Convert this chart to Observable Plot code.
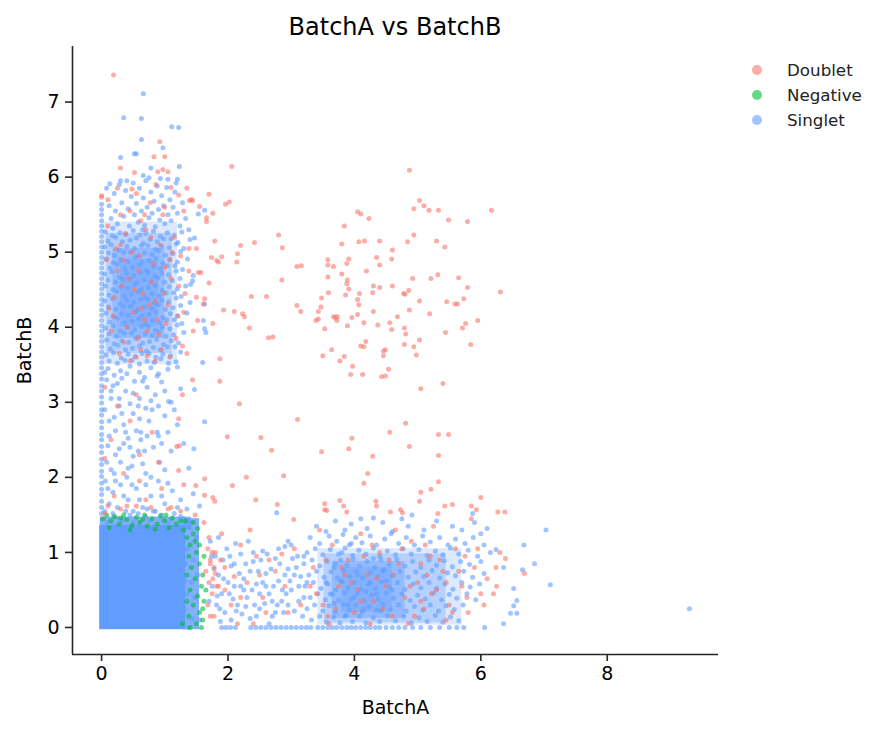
<!DOCTYPE html>
<html><head><meta charset="utf-8">
<script src="https://cdn.jsdelivr.net/npm/d3@7"></script>
<script src="https://cdn.jsdelivr.net/npm/@observablehq/plot@0.6"></script>
<style>
body{margin:0;background:#fff;font-family:"DejaVu Sans",sans-serif;}
#wrap{position:relative;width:884px;height:734px;}
#title{position:absolute;left:0px;width:790px;top:13px;text-align:center;font-size:24px;color:#000;}
#legend{position:absolute;left:752px;top:57px;font-size:16.7px;color:#222;}
.item{display:flex;align-items:center;height:25px;}
.sw{width:10px;height:10px;border-radius:50%;margin-right:25px;}
</style></head><body>
<div id="wrap"><div id="title">BatchA vs BatchB</div><div id="legend"></div></div>
<script>
const categories = ["Doublet","Negative","Singlet"];
const colors = ["#F8766D","#00BA38","#619CFF"];
const xDomain = [-0.46, 9.76];
const yDomain = [-0.36, 7.74];
const xTicks = [0,2,4,6,8];
const yTicks = [0,1,2,3,4,5,6,7];
// saturated (over-plotted) core of Singlet points
const coreRegion = [{x1:-0.03,x2:1.33,y1:-0.03,y2:1.36}];
// crowded areas where Singlet points overlap heavily: [x1,x2,y1,y2,opacity]
const crowdBands = [
[0.03,1.2,3.5,5.4,0.22],[0.08,1.12,3.65,5.25,0.3],[0.18,1.0,3.85,5.05,0.4],[0.3,0.9,4.0,4.9,0.3],
[3.42,5.7,0.03,1.05,0.22],[3.52,5.45,0.06,0.98,0.3],[3.65,4.8,0.12,0.88,0.4],[3.8,4.6,0.2,0.8,0.3],
[-0.02,1.42,1.3,1.47,0.8],[1.3,1.55,-0.03,1.45,0.8]
];

const zeroColY = [1.52,1.6,1.68,1.77,1.84,1.92,2.01,2.08,2.17,2.24,2.33,2.41,2.5,2.57,2.66,2.74,2.83,2.9,2.99,3.07,3.15,3.22,3.31,3.38,3.46,3.53,3.6,3.67,3.74,3.81,3.88,3.95,4.02,4.09,4.16,4.23,4.3,4.37,4.44,4.51,4.58,4.65,4.72,4.79,4.86,4.93,5.0,5.07,5.14,5.21,5.28,5.35,5.42,5.5,5.57,5.64];

const singletLeft = [
[0.66,7.11],[0.35,6.79],[0.63,6.78],[0.63,6.50],[1.11,6.67],[1.22,6.66],[0.97,6.39],[0.30,6.26],[0.52,6.31],[0.55,6.31],[1.23,6.14],[0.78,6.12],[0.66,6.02],[0.13,5.91],[0.30,5.95],[0.75,5.99],[1.05,5.97],[1.2,5.97],
[0.08,5.85],[0.12,5.62],[0.15,5.45],[0.2,5.78],[0.22,5.55],[0.25,5.38],[0.28,5.9],[0.32,5.66],[0.35,5.48],[0.38,5.82],[0.42,5.58],[0.44,5.35],[0.47,5.74],[0.5,5.92],[0.52,5.5],[0.55,5.65],[0.58,5.4],[0.6,5.85],[0.63,5.55],[0.66,5.72],[0.68,5.36],[0.7,5.95],[0.72,5.6],[0.75,5.46],[0.78,5.8],[0.8,5.52],[0.83,5.68],[0.85,5.34],[0.88,5.88],[0.9,5.57],[0.92,5.43],[0.95,5.75],[0.98,5.62],[1.0,5.38],[1.03,5.86],[1.05,5.5],[1.08,5.7],[1.1,5.42],[1.13,5.6],[1.16,5.8],[1.2,5.52],[1.24,5.35],[1.28,5.66],[1.33,5.45],[1.38,5.3],[0.18,5.32],[0.4,5.95],[0.65,5.3],[0.93,5.98],[1.18,5.92],
[0.06,5.27],[0.17,5.22],[0.29,5.26],[0.38,5.24],[0.5,5.29],[0.61,5.23],[0.7,5.25],[0.82,5.28],[0.93,5.21],[1.04,5.26],[1.15,5.23],[1.27,5.27],
[0.1,5.15],[0.22,5.20],[0.33,5.14],[0.45,5.16],[0.55,5.19],[0.66,5.12],[0.77,5.17],[0.88,5.14],[0.98,5.18],[1.1,5.18],[1.21,5.13],[1.4,5.17],
[0.05,5.07],[0.15,5.10],[0.27,5.03],[0.4,5.08],[0.52,5.05],[0.63,5.09],[0.73,5.09],[0.85,5.04],[0.95,5.08],[1.07,5.06],[1.18,5.11],[1.3,5.05],
[0.11,4.99],[0.2,4.96],[0.35,5.00],[0.46,5.00],[0.58,4.95],[0.68,4.99],[0.8,4.97],[0.9,5.02],[1.01,4.96],[1.13,4.98],[1.25,5.01],
[0.07,4.91],[0.18,4.86],[0.3,4.90],[0.42,4.88],[0.53,4.93],[0.64,4.87],[0.75,4.89],[0.86,4.92],[0.97,4.85],[1.08,4.90],[1.2,4.87],[1.36,4.91],
[0.13,4.79],[0.25,4.84],[0.37,4.78],[0.49,4.80],[0.6,4.83],[0.71,4.76],[0.82,4.81],[0.93,4.78],[1.04,4.82],[1.16,4.82],[1.28,4.77],
[0.05,4.71],[0.16,4.74],[0.28,4.67],[0.4,4.72],[0.51,4.69],[0.62,4.73],[0.73,4.73],[0.84,4.68],[0.95,4.72],[1.06,4.70],[1.18,4.75],[1.45,4.69],
[0.1,4.63],[0.22,4.60],[0.34,4.64],[0.45,4.64],[0.56,4.59],[0.67,4.63],[0.78,4.61],[0.89,4.66],[1.0,4.60],[1.12,4.62],[1.24,4.65],
[0.06,4.55],[0.18,4.50],[0.3,4.54],[0.41,4.52],[0.52,4.57],[0.63,4.51],[0.74,4.53],[0.85,4.56],[0.96,4.49],[1.07,4.54],[1.2,4.51],[1.33,4.55],
[0.12,4.43],[0.24,4.48],[0.36,4.42],[0.47,4.44],[0.58,4.47],[0.69,4.40],[0.8,4.45],[0.91,4.42],[1.02,4.46],[1.14,4.46],[1.26,4.41],
[0.05,4.35],[0.17,4.38],[0.29,4.31],[0.4,4.36],[0.51,4.33],[0.62,4.37],[0.73,4.37],[0.84,4.32],[0.95,4.36],[1.06,4.34],[1.18,4.39],[1.4,4.33],
[0.11,4.27],[0.23,4.24],[0.35,4.28],[0.46,4.28],[0.57,4.23],[0.68,4.27],[0.79,4.25],[0.9,4.30],[1.01,4.24],[1.13,4.26],[1.25,4.29],
[0.07,4.19],[0.19,4.14],[0.31,4.18],[0.42,4.16],[0.53,4.21],[0.64,4.15],[0.75,4.17],[0.86,4.20],[0.97,4.13],[1.09,4.18],[1.21,4.15],[1.35,4.19],
[0.13,4.07],[0.25,4.12],[0.37,4.06],[0.48,4.08],[0.59,4.11],[0.7,4.04],[0.81,4.09],[0.92,4.06],[1.03,4.10],[1.15,4.10],[1.27,4.05],
[0.06,3.99],[0.18,4.02],[0.3,3.95],[0.41,4.00],[0.52,3.97],[0.63,4.01],[0.74,4.01],[0.85,3.96],[0.96,4.00],[1.08,3.98],[1.2,4.03],
[0.12,3.91],[0.24,3.88],[0.36,3.92],[0.47,3.92],[0.58,3.87],[0.69,3.91],[0.8,3.89],[0.91,3.94],[1.02,3.88],[1.14,3.90],[1.3,3.93],
[0.08,3.83],[0.2,3.78],[0.32,3.82],[0.43,3.80],[0.54,3.85],[0.65,3.79],[0.76,3.81],[0.87,3.84],[0.98,3.77],[1.1,3.82],[1.22,3.79],
[0.14,3.71],[0.26,3.76],[0.38,3.70],[0.49,3.72],[0.6,3.75],[0.71,3.68],[0.82,3.73],[0.93,3.70],[1.04,3.74],[1.16,3.74],
[0.07,3.63],[0.19,3.66],[0.31,3.59],[0.42,3.64],[0.53,3.61],[0.64,3.65],[0.75,3.65],[0.86,3.60],[0.97,3.64],[1.09,3.62],[1.25,3.67],
[0.12,3.55],[0.25,3.52],[0.37,3.56],[0.48,3.56],[0.6,3.51],[0.72,3.55],[0.83,3.53],[0.94,3.58],[1.06,3.52],[1.18,3.54],
[0.1,3.45],[0.3,3.42],[0.45,3.48],[0.6,3.4],[0.78,3.46],[0.9,3.38],[1.05,3.44],[1.2,3.47],[0.2,3.36],[0.68,3.33],
[0.08,3.3],[0.25,3.25],[0.38,3.15],[0.52,3.28],[0.6,3.05],[0.72,3.2],[0.85,3.1],[0.95,3.27],[1.1,3.0],[1.25,3.18],[0.15,3.05],[0.45,2.98],[0.32,3.32],[1.15,2.9],[0.9,2.95],
[0.05,2.9],[0.2,2.8],[0.35,2.7],[0.5,2.85],[0.62,2.6],[0.75,2.75],[0.9,2.55],[1.0,2.82],[0.12,2.55],[0.42,2.52],[0.28,2.95],[1.2,2.7],[0.7,2.92],[0.55,2.62],
[0.1,2.42],[0.22,2.3],[0.35,2.45],[0.48,2.15],[0.58,2.35],[0.7,2.05],[0.82,2.4],[0.92,2.2],[0.15,2.1],[0.4,2.0],[1.1,2.35],[1.38,2.12],[0.62,2.5],[0.3,2.2],
[0.06,1.95],[0.18,1.8],[0.3,1.9],[0.42,1.7],[0.55,1.85],[0.65,1.6],[0.78,1.75],[0.9,1.95],[1.0,1.65],[1.12,1.82],[1.25,1.7],[1.35,1.58],[0.25,1.6],[0.5,1.55],[0.85,1.55],[1.45,1.78],[1.55,1.62],[0.12,1.65],[0.7,1.9],
[0.05,3.4],[0.18,3.22],[0.28,3.05],[0.4,3.38],[0.5,3.12],[0.65,3.28],[0.78,3.02],[0.88,3.35],[1.0,3.15],[0.12,2.75],[0.22,2.62],[0.32,2.85],[0.45,2.4],[0.6,2.78],[0.68,2.35],[0.8,2.9],[0.95,2.45],[1.05,2.6],[0.08,2.2],[0.2,2.05],[0.28,2.38],[0.5,2.28],[0.65,2.18],[0.78,2.0],[0.88,2.6],[1.0,2.1],[0.1,1.85],[0.22,1.95],[0.35,1.75],[0.48,1.9],[0.6,1.7],[0.72,1.58],[0.95,1.75],[1.05,1.92],[1.2,1.6],[0.38,2.6],[0.15,3.15],[0.58,2.95],[0.72,2.55],[0.42,2.12],
[1.60,3.53],[1.47,3.17],[1.63,2.74],[1.46,2.38],[1.30,2.45],[1.06,3.01],[1.53,5.51],[1.63,5.56],[1.47,5.19],[1.61,4.09],[1.63,4.31],[1.63,3.98],[1.65,3.93],[1.41,4.57],[1.44,4.62]
];

const singletCoreEdge = [
[0.05,1.55],[0.1,1.4],[0.18,1.52],[0.25,1.35],[0.33,1.42],[0.38,1.55],[0.5,1.4],[0.58,1.52],[0.63,1.33],[0.75,1.42],[0.82,1.55],[0.9,1.32],[0.97,1.44],[1.05,1.38],[1.15,1.52],[1.2,1.3],[1.3,1.45],[1.36,1.05],[1.33,0.85],[1.42,0.6],[1.35,0.45],[1.3,0.25],[1.44,0.12],[1.37,0.0],[1.32,0.62],[1.4,1.33],
[0.22,1.47],[0.45,1.5],[0.7,1.48],[0.95,1.5],[1.1,1.44],[1.25,1.48],[1.42,1.4],[1.5,1.2],[1.45,0.9],[1.52,0.7],[1.48,0.4],[1.55,0.1]
];

const singletRight = [
[1.72,1.15],[1.8,0.95],[1.85,0.7],[1.9,0.45],[1.95,0.2],[1.98,1.05],[2.05,0.82],[2.1,0.55],[2.15,0.3],[2.2,0.98],[2.25,0.65],[2.3,0.4],[2.35,0.12],[2.4,0.88],[2.45,0.58],[2.5,0.25],[2.55,1.02],[2.6,0.72],[2.65,0.45],[2.7,0.15],[2.75,0.92],[2.8,0.62],[2.85,0.35],[2.9,1.08],[2.95,0.78],[3.0,0.5],[3.05,0.22],[3.1,0.95],[3.15,0.68],[3.2,0.4],[1.75,0.55],[1.82,0.3],[1.88,0.08],[2.0,0.6],[2.08,0.38],[2.12,1.12],[2.22,0.18],[2.28,0.85],[2.38,0.5],[2.48,0.75],[2.58,0.32],[2.62,0.98],[2.72,0.55],[2.82,0.85],[2.88,0.2],[2.98,0.62],[3.08,0.8],[3.18,0.15],[1.78,0.78],[1.92,0.9],[2.18,0.72],[2.42,0.3],[2.68,0.78],[2.92,0.45],[3.12,0.55],[2.02,0.45],[2.55,0.6],[2.78,0.3],[1.7,0.35],[1.85,1.2],[2.32,1.15],[2.95,1.15],[3.02,0.92],[2.05,0.1],[2.65,0.05],[2.25,0.5],[2.5,0.45],
[1.74,0.95],[1.83,0.42],[1.93,0.65],[2.03,0.95],[2.13,0.22],[2.2,0.55],[2.28,0.28],[2.35,0.75],[2.45,0.15],[2.52,0.9],[2.6,0.55],[2.7,0.35],[2.8,1.05],[2.86,0.5],[2.95,0.3],[3.05,0.7],[3.12,0.35],[3.2,0.95],[3.25,0.6],[1.87,0.25],[2.4,1.0],[2.75,0.2],[3.0,1.1],[2.1,0.85],[2.9,0.7],
[3.4,1.35],[3.7,1.42],[3.85,1.3],[3.95,1.38],[4.2,1.32],[4.45,1.4],[4.6,1.28],[4.85,1.35],[5.1,1.3],[5.3,1.42],[5.55,1.35],[5.9,1.4],[6.1,1.32],[3.55,1.28],[4.1,1.45],[4.75,1.45],[5.7,1.3],[6.0,1.25],
[3.3,1.2],[3.45,1.12],[3.6,1.22],[3.72,1.15],[3.82,1.24],[3.92,1.1],[4.02,1.2],[4.12,1.13],[4.25,1.22],[4.35,1.1],[4.48,1.18],[4.58,1.25],[4.7,1.12],[4.82,1.2],[4.95,1.1],[5.08,1.22],[5.2,1.14],[5.35,1.2],[5.48,1.1],[5.6,1.18],[5.75,1.12],[5.88,1.2],[6.05,1.1],
[3.25,1.0],[3.38,1.05],[3.5,0.97],[3.62,1.04],[3.75,0.98],[3.85,1.06],[3.97,0.96],[4.07,1.03],[4.18,0.98],[4.3,1.06],[4.4,0.95],[4.52,1.02],[4.65,0.97],[4.77,1.05],[4.9,0.98],[5.02,1.04],[5.15,0.96],[5.28,1.02],[5.4,0.97],[5.52,1.06],[5.65,0.98],[5.8,1.03],[5.95,0.95],[6.15,1.0],
[3.2,0.85],[3.33,0.9],[3.45,0.82],[3.57,0.88],[3.68,0.8],[3.78,0.9],[3.88,0.83],[3.98,0.91],[4.08,0.82],[4.2,0.88],[4.32,0.8],[4.42,0.9],[4.55,0.84],[4.67,0.91],[4.8,0.82],[4.92,0.88],[5.05,0.8],[5.18,0.9],[5.3,0.83],[5.42,0.89],[5.55,0.81],[5.68,0.88],[5.82,0.84],[6.0,0.88],
[3.28,0.7],[3.4,0.75],[3.52,0.67],[3.63,0.74],[3.73,0.66],[3.83,0.76],[3.93,0.68],[4.03,0.75],[4.13,0.66],[4.25,0.73],[4.37,0.68],[4.47,0.77],[4.6,0.69],[4.72,0.75],[4.85,0.67],[4.97,0.74],[5.1,0.68],[5.23,0.76],[5.35,0.66],[5.47,0.73],[5.6,0.69],[5.73,0.75],[5.87,0.67],[6.05,0.72],
[3.22,0.55],[3.35,0.6],[3.47,0.52],[3.58,0.58],[3.7,0.5],[3.8,0.61],[3.9,0.53],[4.0,0.6],[4.1,0.51],[4.22,0.58],[4.33,0.52],[4.43,0.61],[4.55,0.54],[4.68,0.6],[4.8,0.51],[4.93,0.58],[5.05,0.53],[5.18,0.6],[5.3,0.52],[5.43,0.58],[5.56,0.51],[5.7,0.6],[5.83,0.54],[5.98,0.58],
[3.3,0.4],[3.42,0.45],[3.54,0.37],[3.65,0.44],[3.75,0.36],[3.85,0.46],[3.95,0.38],[4.05,0.45],[4.15,0.36],[4.27,0.43],[4.38,0.38],[4.5,0.46],[4.62,0.39],[4.75,0.45],[4.88,0.36],[5.0,0.43],[5.12,0.38],[5.25,0.46],[5.38,0.37],[5.5,0.44],[5.62,0.39],[5.78,0.45],[5.92,0.37],
[3.25,0.25],[3.37,0.3],[3.5,0.22],[3.6,0.29],[3.7,0.21],[3.82,0.31],[3.92,0.23],[4.02,0.3],[4.12,0.21],[4.23,0.28],[4.35,0.23],[4.45,0.31],[4.57,0.24],[4.7,0.3],[4.82,0.22],[4.95,0.28],[5.08,0.23],[5.2,0.3],[5.33,0.22],[5.45,0.29],[5.58,0.24],[5.72,0.3],
[3.32,0.1],[3.45,0.15],[3.56,0.07],[3.67,0.14],[3.77,0.06],[3.87,0.16],[3.97,0.08],[4.08,0.15],[4.18,0.06],[4.3,0.13],[4.4,0.08],[4.52,0.16],[4.65,0.09],[4.78,0.15],[4.9,0.06],[5.02,0.13],[5.15,0.08],[5.28,0.16],[5.4,0.07],[5.52,0.14],[5.65,0.09],
[3.62,0.45],[3.78,0.62],[3.9,0.3],[4.05,0.7],[4.18,0.48],[4.3,0.92],[4.42,0.22],[3.7,0.85],[3.85,0.15],[4.0,0.4],[4.25,0.6],[4.45,0.75],[3.55,0.6],[3.95,1.12],[4.6,0.5],[4.15,0.25],[3.68,0.32],[4.35,0.45],[3.8,1.0],[4.5,0.62],
[2.77,1.53],[4.30,1.46],[4.91,1.50],[5.87,1.52],[6.68,1.10],[6.66,0.77],[7.03,1.30],[6.85,0.85],[7.10,0.57],[6.52,0.52],[6.57,0.36],[6.52,0.29],[6.47,0.19],[6.57,0.19],[6.36,0.05],[9.30,0.25],[6.36,0.80],[6.24,1.04],[6.06,0.0]
];

const zeroRowX = [1.9,1.97,2.04,2.12,2.36,2.44,2.52,2.6,2.68,2.76,2.84,2.92,3.0,3.08,3.16,3.24,3.31,3.42,3.5,3.58,3.65,3.72,3.8,3.88,3.95,4.02,4.1,4.18,4.25,4.33,4.4,4.5,4.6,4.7,4.8,4.92,5.05,5.2,5.35,5.5,5.62,5.73];

const negative = [
[0.02,1.45],[0.08,1.5],[0.15,1.42],[0.2,1.48],[0.28,1.38],[0.35,1.5],[0.4,1.44],[0.48,1.36],[0.55,1.47],[0.6,1.4],[0.68,1.5],[0.72,1.35],[0.8,1.45],[0.88,1.38],[0.93,1.49],[1.0,1.42],[1.07,1.33],[1.12,1.46],[1.18,1.38],[1.25,1.42],[0.12,1.33],[0.45,1.3],[0.85,1.31],[0.3,1.46],[0.65,1.44],[1.02,1.5],
[1.3,1.3],[1.35,1.2],[1.4,1.1],[1.45,1.25],[1.5,1.0],[1.38,0.95],[1.55,0.85],[1.42,0.8],[1.6,0.7],[1.48,0.65],[1.58,0.55],[1.4,0.5],[1.52,0.42],[1.62,0.35],[1.45,0.3],[1.55,0.2],[1.38,0.15],[1.6,0.1],[1.5,0.05],[1.4,0.0],[1.58,0.0],[1.33,1.42],[1.45,1.4],[1.52,1.32],[1.48,1.15],[1.62,0.95],[1.35,0.7],[1.6,0.25],[1.35,0.35],[1.65,0.5],[1.55,1.1],[1.28,0.05]
];

const doublet = [
[0.19,7.36],[0.92,6.47],[0.83,6.27],[1.0,6.27],[0.30,6.12],[0.52,6.06],[0.89,6.07],[1.05,6.07],[0.97,6.10],[0,5.75],[0,5.73],
[0.1,5.7],[0.3,5.5],[0.48,5.84],[0.62,5.42],[0.77,5.66],[0.86,5.9],[0.97,5.5],[1.1,5.86],[1.22,5.76],[1.3,5.55],[1.42,5.7],[1.35,5.85],[0.55,5.78],
[0.08,4.9],[0.2,4.4],[0.3,5.1],[0.35,3.8],[0.42,4.65],[0.5,4.2],[0.55,3.6],[0.6,4.95],[0.65,4.45],[0.72,3.95],[0.78,5.2],[0.8,4.6],[0.88,4.1],[0.95,3.7],[1.0,4.8],[1.05,4.3],[1.12,5.0],[1.18,3.85],[1.22,4.55],[1.3,4.2],[1.38,4.75],[1.45,3.95],[1.5,4.4],[0.15,3.95],[0.25,4.75],[0.45,3.55],[0.68,4.1],[0.85,3.55],[0.98,4.45],[1.08,3.6],[1.25,4.95],[1.35,3.65],[0.38,5.25],[0.12,4.25],[0.58,3.85],
[0.1,5.35],[0.22,5.05],[0.32,4.55],[0.4,4.0],[0.48,5.0],[0.52,4.5],[0.62,3.7],[0.7,5.3],[0.75,4.3],[0.82,4.85],[0.9,3.9],[0.92,5.1],[1.02,4.05],[1.1,4.65],[1.15,5.2],[1.2,4.15],[1.28,3.75],[1.32,4.45],[0.18,4.15],[0.28,3.65],[0.58,4.75],[0.68,5.5],[0.85,4.35],[1.0,5.6],[0.45,5.55],[0.25,5.85],[0.72,3.62],[1.08,4.9],[0.35,4.9],[0.62,4.25],
[0.05,3.2],[0.25,2.95],[0.45,2.75],[0.15,2.5],[0.6,2.3],[0.35,2.05],[0.05,2.25],[0.8,2.6],[0.55,3.1],[0.7,1.7],[0.2,1.75],[0.95,1.85],[1.1,1.6],[0.4,1.62],[1.3,1.9],[0.05,1.52],[0.6,1.95],[0.9,2.2],
[1.44,3.30],[1.28,3.10],[1.22,2.78],[1.19,2.41],[1.23,2.42],[1.22,2.09],[1.49,1.89],[1.63,1.76],[1.76,1.73],[1.79,1.68],[1.39,5.69],[1.44,5.69],[1.55,5.61],[1.57,4.73],[1.53,4.73],[1.50,5.05],[1.38,5.05],[1.63,4.38],[1.52,4.09],[1.61,4.31],[1.85,4.87],
[0.1,1.62],[0.3,1.58],[0.55,1.62],[0.78,1.6],[1.05,1.58],[1.25,1.55],[1.48,1.5],[1.62,1.4],[1.7,1.2],[1.68,1.05],[1.72,0.9],[1.65,0.75],[1.7,0.6],[1.75,0.45],[1.68,0.3],[1.72,0.15],[1.8,1.0],[1.78,0.8],[1.82,0.55],[1.72,0.85],[1.8,0.72],[1.88,0.9],[1.76,0.65],
[1.75,1.0],[1.85,0.55],[1.95,0.8],[2.05,0.3],[2.2,1.1],[2.3,0.6],[2.45,0.95],[2.6,0.2],[2.75,0.75],[2.9,0.55],[3.05,1.05],[3.15,0.3],[2.4,0.05],[1.78,0.15],[2.1,0.68],[2.55,0.4],[2.85,0.98],[1.9,1.25],[2.35,1.3],[2.15,0.05],
[3.35,0.8],[3.5,0.3],[3.65,1.1],[3.75,0.55],[3.9,0.9],[4.0,0.2],[4.1,1.25],[4.2,0.7],[4.3,0.35],[4.4,1.0],[4.5,0.55],[4.6,0.15],[4.7,0.85],[4.8,0.4],[4.9,1.15],[5.0,0.6],[5.1,0.25],[5.2,0.95],[5.3,0.5],[5.4,0.75],[5.5,0.3],[5.6,1.05],[5.7,0.55],[5.8,0.2],[5.9,0.8],[6.0,0.45],[6.1,0.65],[3.45,1.3],[4.65,1.3],[5.25,1.35],[5.85,1.45],[4.25,0.05],[4.85,0.05],[3.6,0.05],[5.45,0.1],[3.85,0.7],[4.55,0.9],[5.15,0.7],[5.75,0.95],[6.25,0.55],[4.05,0.5],[5.05,0.35],[3.3,0.55],[6.3,1.0],
[3.4,0.45],[3.55,0.9],[3.7,0.25],[3.8,0.8],[3.95,0.6],[4.1,0.35],[4.15,0.95],[4.35,0.65],[4.45,0.25],[4.62,0.7],[4.75,1.05],[4.95,0.15],[5.05,0.85],[5.22,0.45],[5.35,0.9],[5.45,0.6],[5.55,0.2],[5.65,0.75],[5.78,0.4],[5.95,1.05],[6.05,0.3],[4.88,0.55],[4.28,1.1],[3.58,0.15],[5.12,1.1],[2.2,0.4],[2.65,0.9],[2.95,0.2],[1.95,0.5],[2.5,0.7],
[2.06,6.14],[4.87,6.09],[1.70,5.77],[1.96,5.64],[2.02,5.67],[1.76,5.52],[5.03,5.69],[4.94,5.58],[5.10,5.62],[5.18,5.56],[5.33,5.56],[6.17,5.56],[4.05,5.54],[4.10,5.51],[4.23,5.45],[5.49,5.43],[5.79,5.41],[3.84,5.35],[1.66,5.46],[1.66,5.41],[2.80,5.23],[4.94,5.23],[1.79,5.15],[2.42,5.13],[2.20,5.09],[2.86,5.06],[3.80,5.11],[4.07,5.14],[4.16,5.15],[4.40,5.15],[4.84,5.14],[5.30,5.15],[5.43,5.07],[4.60,5.03],[2.15,4.98],[2.14,4.87],[1.74,4.93],[1.82,4.89],[1.90,4.94],[3.58,4.90],[3.58,4.83],[3.91,4.91],[3.88,4.85],[3.67,4.81],[4.35,4.93],[4.40,4.83],[4.59,4.91],[3.09,4.81],[3.16,4.82],[4.19,4.75],[3.58,4.67],[3.80,4.71],[3.89,4.63],[3.88,4.58],[4.92,4.65],[5.21,4.65],[5.32,4.70],[5.65,4.66],[2.85,4.63],[1.70,4.59],[3.91,4.51],[4.30,4.55],[4.29,4.46],[4.40,4.53],[4.60,4.55],[5.79,4.53],[6.31,4.47],[3.59,4.46],[3.48,4.39],[3.86,4.43],[4.08,4.45],[4.78,4.45],[4.80,4.44],[4.86,4.49],[5.03,4.35],[5.73,4.38],[2.37,4.41],[2.61,4.41],[4.05,4.37],[4.07,4.30],[5.46,4.34],[5.59,4.31],[5.63,4.31],[3.09,4.29],[3.47,4.27],[1.93,4.23],[2.10,4.21],[2.23,4.18],[2.26,4.14],[3.15,4.21],[3.43,4.21],[4.30,4.21],[4.87,4.23],[5.19,4.18],[3.67,4.14],[3.70,4.13],[3.73,4.14],[3.72,4.09],[3.96,4.13],[4.05,4.17],[3.39,4.09],[3.43,4.11],[4.68,4.14],[5.95,4.09],[1.76,4.05],[4.15,4.06],[4.56,4.06],[3.89,4.02],[4.37,4.03],[5.76,4.05],[5.71,3.99],[2.34,3.99],[3.53,3.98],[4.59,3.97],[4.79,3.99],[4.81,3.91],[5.44,3.93],[2.64,3.86],[2.71,3.87],[5.03,3.83],[5.84,3.77],[4.10,3.75],[4.15,3.74],[4.18,3.81],[4.79,3.77],[4.94,3.74],[3.64,3.70],[4.46,3.68],[4.49,3.70],[4.46,3.62],[3.50,3.62],[4.98,3.63],[1.87,3.58],[3.77,3.55],[3.84,3.61],[3.97,3.48],[4.54,3.44],[3.94,3.37],[4.13,3.37],[4.43,3.34],[4.49,3.35],[1.87,3.28],[5.40,3.25],[5.05,3.18],
[2.18,2.98],[3.10,2.77],[4.81,2.72],[4.56,2.60],[1.99,2.54],[2.52,2.53],[3.96,2.52],[5.33,2.57],[5.49,2.57],[4.87,2.41],[2.69,2.36],[3.48,2.34],[3.91,2.38],[4.29,2.28],[5.33,2.29],[4.21,2.05],[2.29,2.00],[2.88,2.02],[4.15,1.92],[5.33,1.94],[2.07,1.89],[1.63,1.98],[5.21,1.84],[5.05,1.80],[2.44,1.70],[5.03,1.68],[6.00,1.73],[3.77,1.69],[3.53,1.65],[3.83,1.62],[4.34,1.68],[4.35,1.62],[2.78,1.64],[3.53,1.57],[3.56,1.56],[3.88,1.54],[4.57,1.54],[4.73,1.57],[4.76,1.53],[5.43,1.62],[5.55,1.64],[5.85,1.62],[5.93,1.57],[5.32,1.52],[6.27,1.54],[6.38,1.54],[3.04,1.44],[6.69,0.72],[6.39,0.92],[6.24,0.80],[6.20,0.45]
];

// tables built from the arrays
const toPts = arr => arr.map(([x,y]) => ({x, y}));
const singletPts = [
  ...zeroColY.map(y => ({x:0, y})),
  ...toPts(singletLeft),
  ...toPts(singletCoreEdge),
  ...toPts(singletRight),
  ...zeroRowX.map(x => ({x, y:0}))
];
const negativePts = toPts(negative);
const doubletPts = toPts(doublet);
const bandRows = crowdBands.map(([x1,x2,y1,y2,o]) => ({x1,x2,y1,y2,o}));

const dotOpts = (c) => ({x:"x", y:"y", r:2.5, fill:c, fillOpacity:0.6, stroke:"none"});
const spine = "#262626";

const chart = Plot.plot({
  width: 884, height: 734,
  marginLeft: 72, marginRight: 166, marginTop: 46, marginBottom: 80,
  style: {fontFamily: "DejaVu Sans, sans-serif", fontSize: "20px", color: "#000", background: "#fff", overflow: "visible"},
  x: {domain: xDomain},
  y: {domain: yDomain},
  marks: [
    Plot.rect(bandRows, {x1:"x1", x2:"x2", y1:"y1", y2:"y2", fill: colors[2], fillOpacity: "o"}),
    Plot.rect(coreRegion, {x1:"x1", x2:"x2", y1:"y1", y2:"y2", fill: colors[2]}),
    Plot.dot(singletPts, dotOpts(colors[2])),
    Plot.dot(negativePts, dotOpts(colors[1])),
    Plot.dot(doubletPts, dotOpts(colors[0])),
    Plot.ruleX([xDomain[0]], {stroke: spine, strokeWidth: 1.6}),
    Plot.ruleY([yDomain[0]], {stroke: spine, strokeWidth: 1.6}),
    Plot.axisX({ticks: xTicks, tickSize: 7, tickPadding: 5, fontSize: 19, stroke: spine, strokeWidth: 1.6, label: "BatchA", labelAnchor: "center", labelArrow: "none", labelOffset: 59}),
    Plot.axisY({ticks: yTicks, tickSize: 7, tickPadding: 6, fontSize: 19, stroke: spine, strokeWidth: 1.6, label: "BatchB", labelAnchor: "center", labelArrow: "none", labelOffset: 55})
  ]
});
document.getElementById("wrap").prepend(chart);

const legend = document.getElementById("legend");
categories.forEach((c, i) => {
  const item = document.createElement("div");
  item.className = "item";
  const sw = document.createElement("span");
  sw.className = "sw";
  sw.style.background = colors[i];
  sw.style.opacity = 0.6;
  const lab = document.createElement("span");
  lab.textContent = c;
  item.appendChild(sw); item.appendChild(lab);
  legend.appendChild(item);
});
</script>
</body></html>
